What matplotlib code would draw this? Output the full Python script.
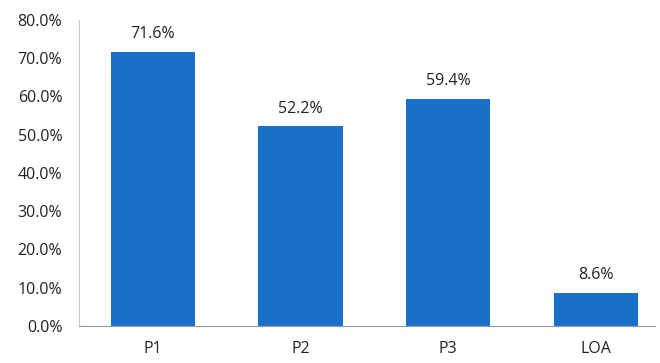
import matplotlib.pyplot as plt
from matplotlib.ticker import FuncFormatter

categories = ["P1", "P2", "P3", "LOA"]
values = [71.6, 52.2, 59.4, 8.6]
yticks = [0, 10, 20, 30, 40, 50, 60, 70, 80]

plt.rcParams['font.family'] = ['Open Sans', 'DejaVu Sans']

fig = plt.figure(figsize=(6.6, 3.63), dpi=100)
ax = fig.add_axes([0.1197, 0.1019, 0.8727, 0.8431])

x = range(len(categories))
bars = ax.bar(x, values, width=0.57, color="#1870C8")

for b, v in zip(bars, values):
    ax.annotate("%.1f%%" % v, (b.get_x() + b.get_width() / 2, v),
                xytext=(0, 7), textcoords="offset points",
                ha="center", va="bottom", fontsize=11.5, color="#222222")

ax.set_xlim(-0.5, 3.4)
ax.set_ylim(0, 80)
ax.set_yticks(yticks)
ax.yaxis.set_major_formatter(FuncFormatter(lambda v, p: "%.1f%%" % v))
ax.set_xticks(list(x))
ax.set_xticklabels(categories)
ax.tick_params(axis="y", length=0, pad=12, labelsize=11.5, labelcolor="#222222")
ax.tick_params(axis="x", length=0, pad=11, labelsize=11.5, labelcolor="#222222")

for s in ["top", "right"]:
    ax.spines[s].set_visible(False)
ax.spines["left"].set_color("#c8c8c8")
ax.spines["bottom"].set_color("#999999")

fig.savefig("out.png", dpi=100)
